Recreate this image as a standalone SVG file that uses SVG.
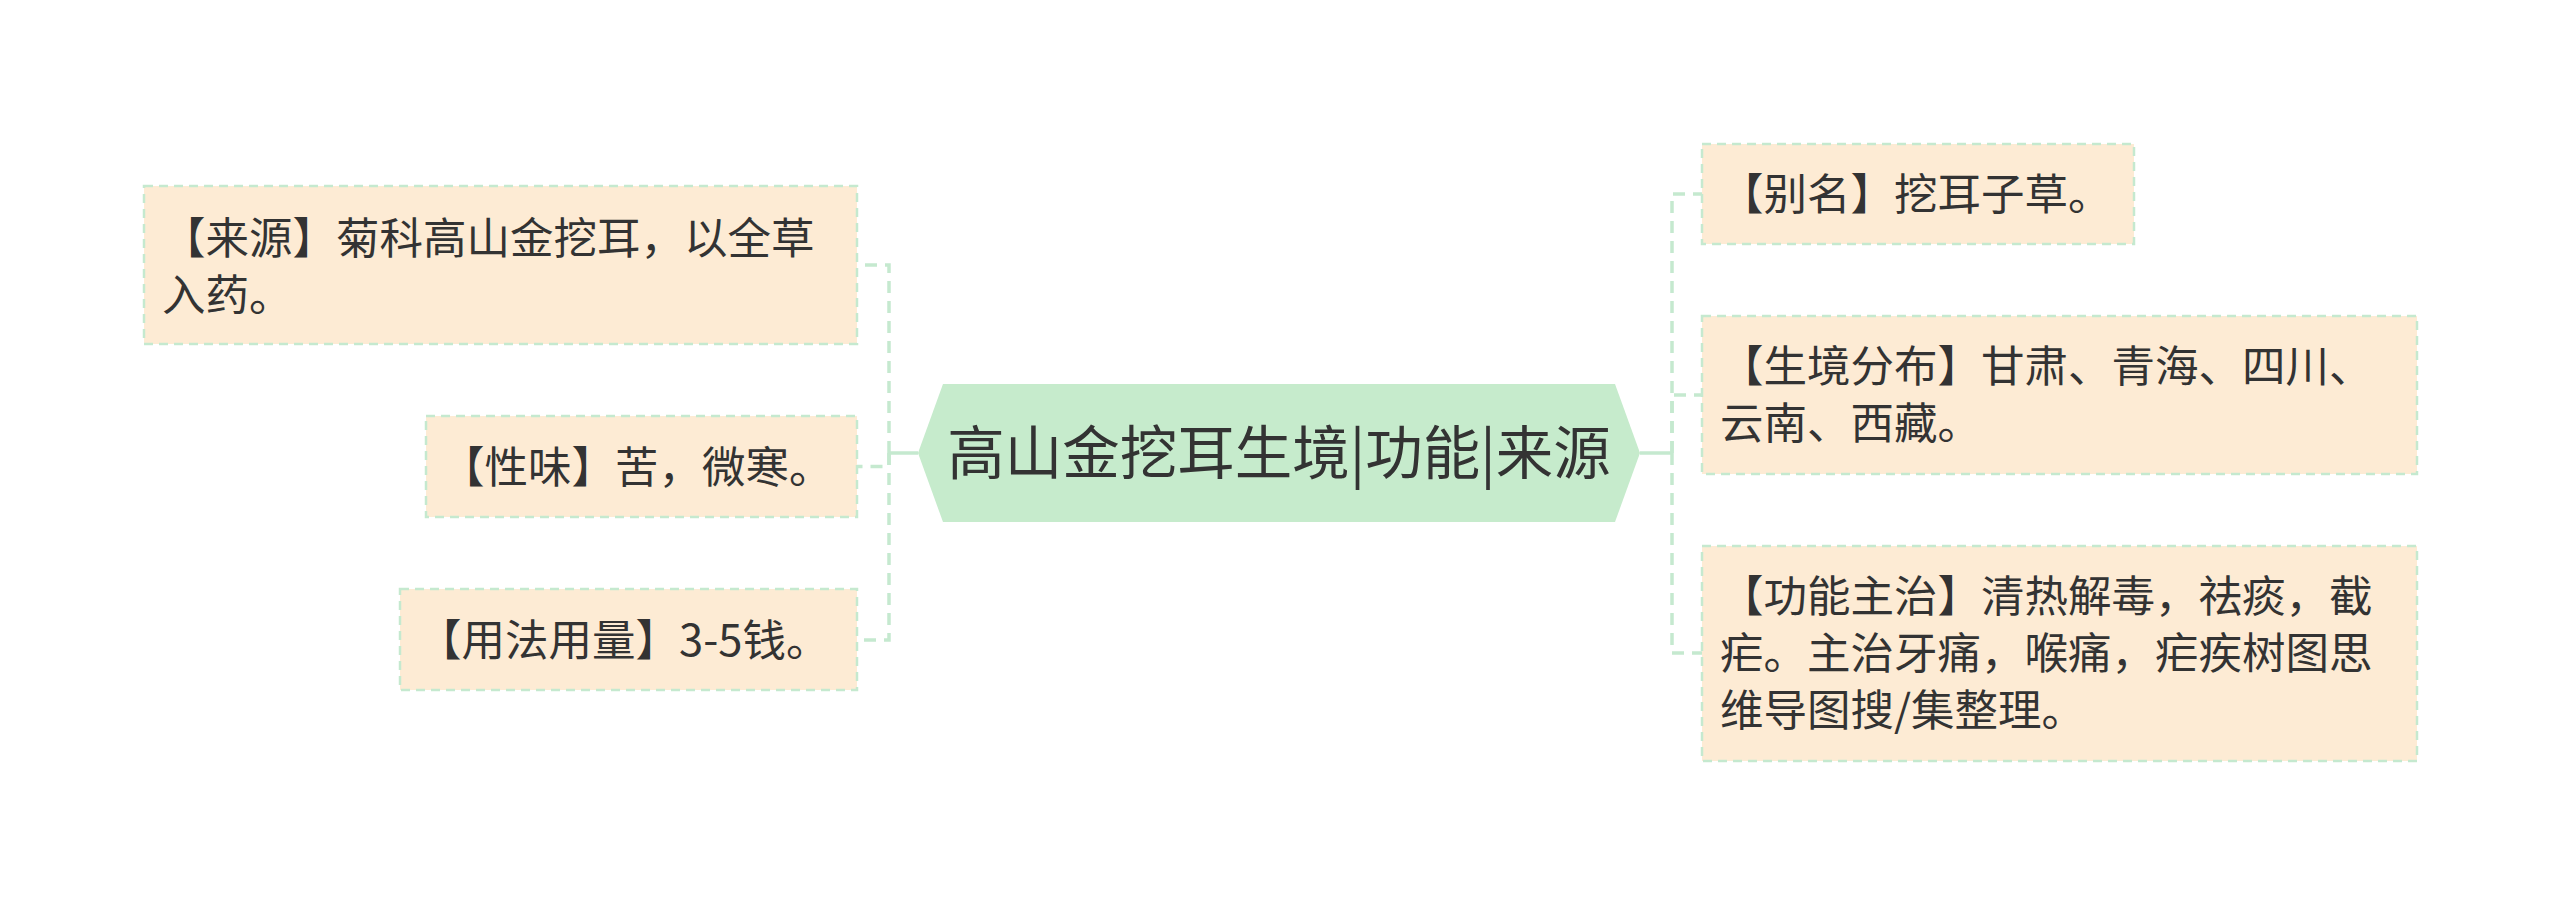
<svg xmlns="http://www.w3.org/2000/svg" width="2560" height="905" viewBox="0 0 2560 905">
<style>
.box{fill:#fdebd4;stroke:#c5e9cf;stroke-width:2.5;stroke-dasharray:9 6}
.t{font-family:"Noto Sans CJK SC","Noto Sans",sans-serif;font-size:43.5px;fill:#333333}
.rt{font-family:"Noto Sans CJK SC","Noto Sans",sans-serif;font-size:57.5px;fill:#333333}
.c{fill:none;stroke:#c5e9cf;stroke-width:3.5;stroke-dasharray:12 8}
.cs{fill:none;stroke:#c5e9cf;stroke-width:3.5}
</style>
<rect width="2560" height="905" fill="#ffffff"/>
<g id="connectors">
<path class="cs" d="M918 453 L889 453"/>
<path class="c" d="M889 453 L889 265 L857 265"/>
<path class="c" d="M889 453 L889 466.5 L857 466.5"/>
<path class="c" d="M889 453 L889 640 L857 640"/>
<path class="cs" d="M1640 453 L1672 453"/>
<path class="c" d="M1672 453 L1672 194 L1702 194"/>
<path class="c" d="M1672 453 L1672 395 L1702 395"/>
<path class="c" d="M1672 453 L1672 653 L1702 653"/>
</g>
<g id="root">
<polygon points="918,453 943,384 1615,384 1640,453 1615,522 943,522" fill="#c6ebcc"/>
<text class="rt" x="1279" y="474" text-anchor="middle">高山金挖耳生境|功能|来源</text>
</g>
<g id="n-laiyuan">
<rect class="box" x="144" y="186" width="713" height="158"/>
<text class="t" x="162" y="254">【来源】菊科高山金挖耳，以全草</text>
<text class="t" x="162" y="311">入药。</text>
</g>
<g id="n-xingwei">
<rect class="box" x="426" y="416" width="431" height="101"/>
<text class="t" x="441" y="483">【性味】苦，微寒。</text>
</g>
<g id="n-yongfa">
<rect class="box" x="400" y="589" width="457" height="101"/>
<text class="t" x="418" y="656">【用法用量】3-5钱。</text>
</g>
<g id="n-bieming">
<rect class="box" x="1702" y="144" width="432" height="100"/>
<text class="t" x="1720" y="210">【别名】挖耳子草。</text>
</g>
<g id="n-shengjing">
<rect class="box" x="1702" y="316" width="715" height="158"/>
<text class="t" x="1720" y="382">【生境分布】甘肃、青海、四川、</text>
<text class="t" x="1720" y="439">云南、西藏。</text>
</g>
<g id="n-gongneng">
<rect class="box" x="1702" y="546" width="715" height="215"/>
<text class="t" x="1720" y="612">【功能主治】清热解毒，祛痰，截</text>
<text class="t" x="1720" y="669">疟。主治牙痛，喉痛，疟疾树图思</text>
<text class="t" x="1720" y="726">维导图搜/集整理。</text>
</g>
</svg>
